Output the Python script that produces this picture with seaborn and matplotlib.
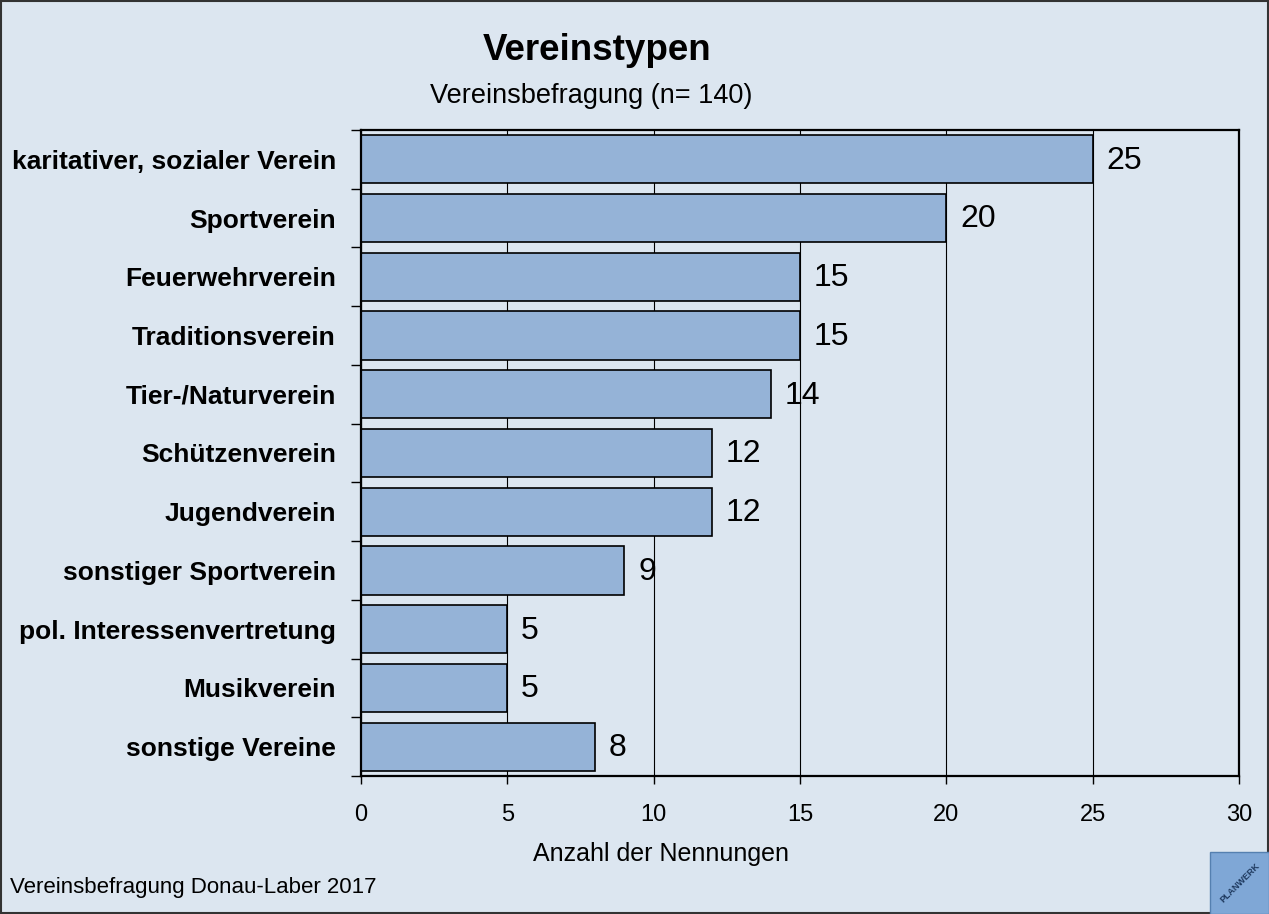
import matplotlib
matplotlib.use("Agg")
import matplotlib.pyplot as plt
import seaborn as sns
import pandas as pd
from matplotlib.patches import Rectangle

categories = ["karitativer, sozialer Verein", "Sportverein", "Feuerwehrverein",
              "Traditionsverein", "Tier-/Naturverein", "Schützenverein", "Jugendverein",
              "sonstiger Sportverein", "pol. Interessenvertretung", "Musikverein",
              "sonstige Vereine"]
values = [25, 20, 15, 15, 14, 12, 12, 9, 5, 5, 8]
xticks = [0, 5, 10, 15, 20, 25, 30]

bg = "#DCE6F0"
barc = "#95B3D7"

sns.set_theme(style="white")
plt.rcParams['font.family'] = ['Liberation Sans', 'DejaVu Sans']
plt.rcParams['text.color'] = 'black'
plt.rcParams['axes.labelcolor'] = 'black'
plt.rcParams['xtick.color'] = 'black'
plt.rcParams['ytick.color'] = 'black'

fig = plt.figure(figsize=(12.69, 9.14), dpi=100, facecolor=bg)
ax = fig.add_axes([361/1269, 1-776/914, (1239-361)/1269, (776-130)/914])
ax.set_facecolor(bg)

df = pd.DataFrame({"cat": categories, "val": values})
ax.set_axisbelow(True)
ax.grid(axis="x", color="black", linewidth=0.8)
sns.barplot(data=df, x="val", y="cat", color=barc, edgecolor="black",
            linewidth=1.2, width=0.82, saturation=1, ax=ax)

for i, v in enumerate(values):
    ax.annotate(str(v), (v, i), xytext=(10, -1), textcoords="offset points",
                va="center", ha="left", fontsize=23, color="black")

ax.set_xlim(0, 30)
ax.set_ylim(len(categories) - 0.5, -0.5)
ax.set_xticks(xticks)
ax.set_xticklabels([str(t) for t in xticks], fontsize=17)
ax.set_yticks([i - 0.5 for i in range(len(categories) + 1)], minor=False)
ax.set_yticklabels([])
ax.set_yticks(range(len(categories)), minor=True)
ax.set_yticklabels(categories, minor=True, fontsize=19, fontweight="bold")
ax.tick_params(axis="y", which="major", length=7, width=1, color="black", direction="out", left=True)
ax.tick_params(axis="y", which="minor", length=0, pad=18)
ax.tick_params(axis="x", length=6, width=1, color="black", direction="out", bottom=True, pad=14)
ax.set_ylabel("")
ax.set_xlabel("Anzahl der Nennungen", fontsize=18, labelpad=11)
ax.xaxis.set_label_coords((661 - 361) / (1239 - 361), -0.0, transform=ax.transAxes)
ax.xaxis.label.set_va("top")
ax.xaxis.set_label_coords((661 - 361) / (1239 - 361), -(842 - 776) / (776 - 130))
for s in ax.spines.values():
    s.set_color("black")
    s.set_linewidth(1.6)
    s.set_visible(True)

fig.text(597/1269, 1-50/914, "Vereinstypen", ha="center", va="center", fontsize=26.5, fontweight="bold")
fig.text(591/1269, 1-96/914, "Vereinsbefragung (n= 140)", ha="center", va="center", fontsize=19.5)
fig.text(10/1269, 1-888/914, "Vereinsbefragung Donau-Laber 2017", ha="left", va="center", fontsize=16)

# figure border
fig.patches.append(Rectangle((0.001, 0.001), 0.998, 0.998, transform=fig.transFigure,
                             fill=False, edgecolor="#333333", linewidth=1.5))
# logo
fig.patches.append(Rectangle((1210/1269, 0.0), 59/1269, 62/914, transform=fig.transFigure,
                             facecolor="#7FA7D6", edgecolor="#5580B0", linewidth=1))
fig.text(1240/1269, 1-883/914, "PLANWERK", rotation=45, ha="center", va="center",
         fontsize=6.5, fontweight="bold", color="#1F3A5F")

fig.savefig("out.png", dpi=100, facecolor=bg)
